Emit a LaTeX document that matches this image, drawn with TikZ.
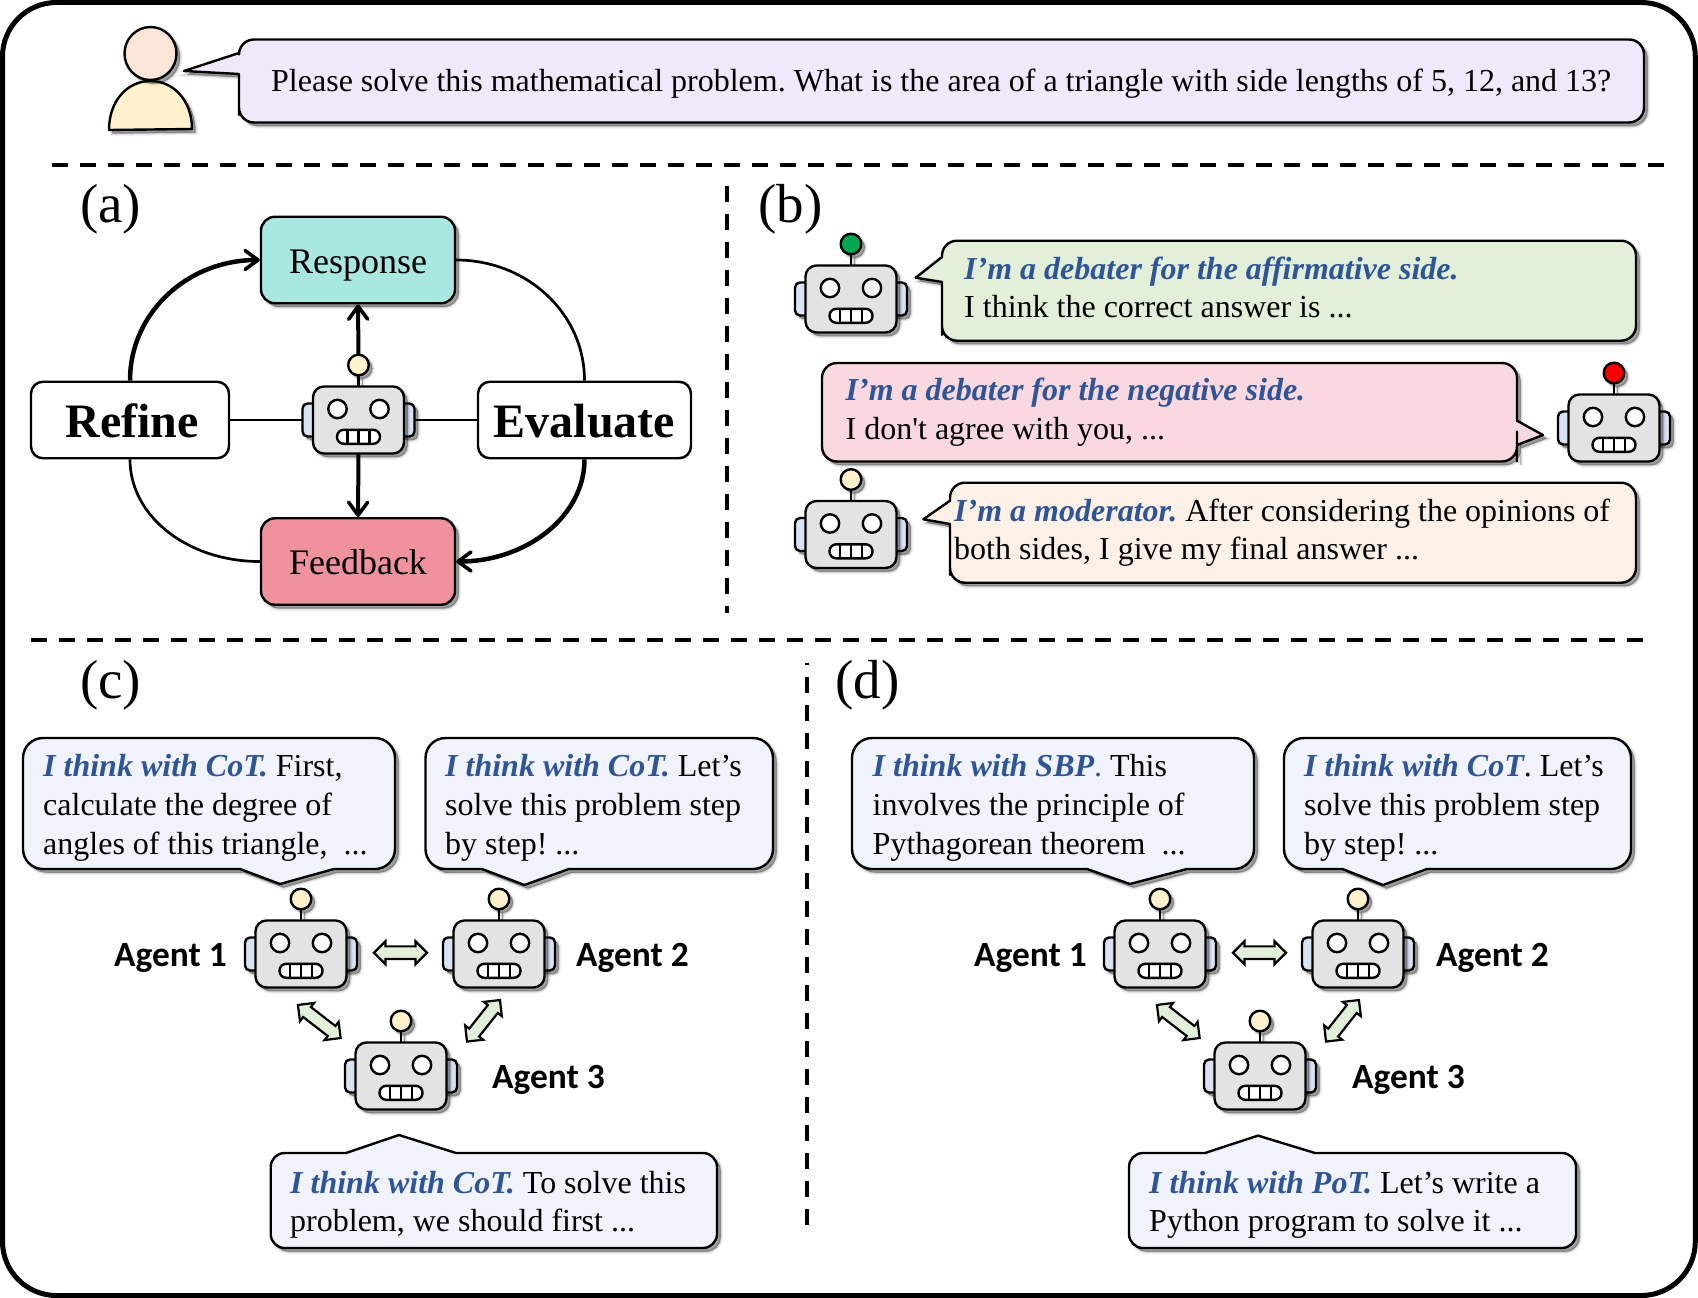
\documentclass[tikz,border=0pt]{standalone}
\usepackage{fontspec}
\setmainfont{Liberation Serif}[Ligatures=TeXOff]
\newfontfamily\agentfont{Carlito}
\usetikzlibrary{arrows.meta,shadows,shapes.arrows}
\definecolor{headgray}{HTML}{E3E3E3}
\definecolor{earblue}{HTML}{DAE3F3}
\definecolor{cream}{HTML}{FFF2CC}
\definecolor{antgreen}{HTML}{00A650}
\definecolor{antred}{HTML}{FF0000}
\definecolor{respcol}{HTML}{A8E8E1}
\definecolor{feedcol}{HTML}{F0919E}
\definecolor{usercol}{HTML}{EFE9FB}
\definecolor{greencol}{HTML}{E2F0D9}
\definecolor{pinkcol}{HTML}{F9D9DF}
\definecolor{peachcol}{HTML}{FDF1E7}
\definecolor{bluecol}{HTML}{F0F3FC}
\definecolor{skin}{HTML}{FBE5D6}
\definecolor{leadblue}{HTML}{2F5597}
\newcommand{\Lead}[1]{\textcolor{leadblue}{\bfseries\itshape #1}}
\newcommand{\Ln}[1]{\hbox{#1}}
\tikzset{
  softsh/.style={
    general shadow={fill=black,draw=black,line width=5pt,opacity=.06,shadow xshift=3.5pt,shadow yshift=-3.5pt},
    general shadow={fill=black,draw=black,line width=2.5pt,opacity=.1,shadow xshift=3.5pt,shadow yshift=-3.5pt},
    general shadow={fill=black,draw=black,line width=.5pt,opacity=.22,shadow xshift=3.5pt,shadow yshift=-3.5pt}},
  ln/.style={draw=black,line width=2.4pt,line join=round},
  bub/.style={ln,softsh},
  divider/.style={line width=4pt,dash pattern=on 16pt off 12pt},
  txt/.style={anchor=base west,inner sep=0pt,font=\fontsize{32}{38.9}\selectfont\frenchspacing},
  panel/.style={anchor=base west,inner sep=0pt,font=\fontsize{55}{60}\selectfont},
  agent/.style={anchor=base west,inner sep=0pt,font=\agentfont\bfseries\fontsize{35.4}{40}\selectfont},
  stepbox/.style={ln,softsh,rounded corners=14pt,minimum width=194pt,minimum height=86.5pt,inner sep=0pt,text height=30pt,text depth=4pt,font=\fontsize{36}{40}\selectfont},
  bigbox/.style={ln,fill=white,rounded corners=12pt,minimum height=76.5pt,inner sep=0pt,text height=38pt,text depth=4pt,font=\bfseries\fontsize{48}{52}\selectfont},
  thin arc/.style={line width=2.7pt},
  bigtip/.style={-{Straight Barb[length=13pt,width=19pt,line width=3.6pt,round]}},
  thick arc/.style={line width=4.5pt,bigtip},
  stem arrow/.style={line width=4pt,bigtip},
  blockarrow/.style={double arrow,draw=black,line width=2.2pt,fill=greencol,inner sep=5pt,minimum width=23pt,double arrow head extend=5pt},
  pics/robot/.style={code={
    \path[ln,softsh,fill=earblue,rounded corners=5pt] (-56,-16.5) rectangle (-40,16.5);
    \path[ln,softsh,fill=earblue,rounded corners=5pt] (40,-16.5) rectangle (56,16.5);
    \path[ln,softsh] (0,-45) -- (0,-33.5);
    \path[ln,softsh,fill=#1] (0,-55) circle[radius=10.3];
    \path[ln,softsh,fill=headgray,rounded corners=11pt] (-45.5,-33.5) rectangle (45.5,33.5);
    \path[ln,fill=white] (-21,-11) circle[radius=9.2];
    \path[ln,fill=white] (21,-11) circle[radius=9.2];
    \path[ln,fill=white,rounded corners=6.8pt] (-21.5,9.8) rectangle (21.5,23.8);
    \path[ln] (-11,9.8) -- (-11,23.8) (0,9.8) -- (0,23.8) (11,9.8) -- (11,23.8);
    \coordinate (-top) at (0,-65.3);
    \coordinate (-bottom) at (0,33.5);
    \coordinate (-left) at (-56,0);
    \coordinate (-right) at (56,0);
  }}
}
\begin{document}
\begin{tikzpicture}[x=1pt,y=-1pt]
\useasboundingbox (0,0) rectangle (1698,1298);
\fill[white] (0,0) rectangle (1698,1298);
\draw[line width=5pt,rounded corners=54pt] (2.5,2.5) rectangle (1695.3,1295.5);

% user
\path[ln,softsh,fill=cream] (109,130) .. controls (109,100) and (128,81) .. (150.5,81) .. controls (173,81) and (192,100) .. (192,129) -- cycle;
\path[ln,softsh,fill=skin] (150.5,53.5) ellipse[x radius=26,y radius=26.5];
\path[bub,fill=usercol] (184,71) -- (239,53) [rounded corners=15pt] -- (239,39.5) -- (1644,39.5) -- (1644,122.5) -- (239,122.5) -- (239,100) [sharp corners] -- (239,74) -- cycle;
\node[txt] (usertext) at (271,91.5) {Please solve this mathematical problem. What is the area of a triangle with side lengths of 5, 12, and 13?};

% dividers
\draw[divider] (52,165) -- (1665,165);
\draw[divider] (727,186) -- (727,613);
\draw[divider] (31,640) -- (1645,640);
\draw[divider,dash phase=13.5pt] (806.5,662.5) -- (806.5,1227);

\node[panel] (la) at (80,222) {(a)};
\node[panel] (lb) at (758,222) {(b)};
\node[panel] (lc) at (80,698) {(c)};
\node[panel] (ld) at (835,698) {(d)};

% panel a
\node[stepbox,fill=respcol] (response) at (358,260) {Response};
\node[stepbox,fill=feedcol] (feedback) at (358,561.5) {Feedback};
\node[bigbox,minimum width=198pt] (refine) at (130,420) {\hspace*{4pt}Refine};
\node[bigbox,minimum width=213pt] (evaluate) at (584.5,420) {Evaluate};
\pic (ra) at (358.5,420) {robot=cream};
\draw[thick arc] (refine.north) .. controls +(0,-68) and +(-72,0) .. (response.west);
\draw[thin arc] (response.east) .. controls +(70,0) and +(0,-68) .. (evaluate.north);
\draw[thick arc] (evaluate.south) .. controls +(0,57) and +(70,0) .. (feedback.east);
\draw[thin arc] (feedback.west) .. controls +(-72,0) and +(0,57) .. (refine.south);
\draw[thin arc] (refine.east) -- (ra-left);
\draw[thin arc] (evaluate.west) -- (ra-right);
\draw[stem arrow] (ra-top) -- (response.south);
\draw[stem arrow] (ra-bottom) -- (feedback.north);

% panel b
\pic (rb1) at (851,299) {robot=antgreen};
\path[bub,fill=greencol] (915.7,277.7) -- (942,257) [rounded corners=15pt] -- (942,240.7) -- (1636,240.7) -- (1636,340.7) -- (942,340.7) -- (942,320) [sharp corners] -- (942,282) -- cycle;
\node[txt] (b1text) at (964,279) {\vtop{\Ln{\Lead{I’m a debater for the affirmative side.}}\Ln{I think the correct answer is ...}}};
\pic (rb2) at (1614,428) {robot=antred};
\path[bub,fill=pinkcol] (1543,435) -- (1517,420.7) [rounded corners=15pt] -- (1517,363) -- (822,363) -- (822,461.5) -- (1517,461.5) -- (1517,446.5) [sharp corners] -- (1517,445) -- cycle;
\node[txt] (b2text) at (845.5,400.5) {\vtop{\Ln{\Lead{I’m a debater for the negative side.}}\Ln{I don't agree with you, ...}}};
\pic (rb3) at (851,534.5) {robot=cream};
\path[bub,fill=peachcol] (923.3,519.3) -- (950,500.7) [rounded corners=15pt] -- (950,482.7) -- (1636,482.7) -- (1636,582.7) -- (950,582.7) -- (950,560) [sharp corners] -- (950,524) -- cycle;
\node[txt] (b3text) at (954,521) {\vtop{\Ln{\Lead{I’m a moderator.} After considering the opinions of}\Ln{both sides, I give my final answer ...}}};

% panel c
\path[bub,fill=bluecol] (280,884) -- (334,869) [rounded corners=20pt] -- (395,869) -- (395,738) -- (23,738) -- (23,869) -- (200,869) [sharp corners] -- (240,869) -- cycle;
\node[txt] (c1text) at (43,776.5) {\vtop{\Ln{\Lead{I think with CoT.} First,}\Ln{calculate the degree of}\Ln{angles of this triangle,\ \ ...}}};
\path[bub,fill=bluecol] (524.5,885) -- (569,869) [rounded corners=20pt] -- (773,869) -- (773,738) -- (425.5,738) -- (425.5,869) -- (460,869) [sharp corners] -- (482,869) -- cycle;
\node[txt] (c2text) at (445,776.5) {\vtop{\Ln{\Lead{I think with CoT.} Let’s}\Ln{solve this problem step}\Ln{by step! ...}}};
\path[bub,fill=bluecol] (399,1135) -- (456,1153) [rounded corners=14pt] -- (717,1153) -- (717,1248) -- (270.7,1248) -- (270.7,1153) -- (320,1153) [sharp corners] -- (346,1153) -- cycle;
\node[txt] (c3text) at (290,1193) {\vtop{\Ln{\Lead{I think with CoT.} To solve this}\Ln{problem, we should first ...}}};
\pic (rc1) at (301,954) {robot=cream};
\pic (rc2) at (499,954) {robot=cream};
\pic (rc3) at (401,1076) {robot=cream};
\node[agent] (ca1) at (114,966.5) {Agent 1};
\node[agent] (ca2) at (576,966.5) {Agent 2};
\node[agent] (ca3) at (492,1088.5) {Agent 3};
\node[blockarrow,minimum height=53pt] (c12) at (400.5,952.7) {};
\node[blockarrow,minimum height=54pt,rotate=-37.7] (c13) at (319.3,1021.5) {};
\node[blockarrow,minimum height=53pt,rotate=51.6] (c23) at (483.5,1020.8) {};

% panel d
\path[bub,fill=bluecol] (1130,884) -- (1187,869) [rounded corners=20pt] -- (1254,869) -- (1254,738) -- (852,738) -- (852,869) -- (1050,869) [sharp corners] -- (1087,869) -- cycle;
\node[txt] (d1text) at (872.5,776.5) {\vtop{\Ln{\Lead{I think with SBP}\textcolor{leadblue}{.} This}\Ln{involves the principle of}\Ln{Pythagorean theorem\ \ ...}}};
\path[bub,fill=bluecol] (1383,885) -- (1427,869) [rounded corners=20pt] -- (1631,869) -- (1631,738) -- (1284,738) -- (1284,869) -- (1320,869) [sharp corners] -- (1342.5,869) -- cycle;
\node[txt] (d2text) at (1304,776.5) {\vtop{\Ln{\Lead{I think with CoT}. Let’s}\Ln{solve this problem step}\Ln{by step! ...}}};
\path[bub,fill=bluecol] (1258,1135.6) -- (1315,1153) [rounded corners=14pt] -- (1576,1153) -- (1576,1248) -- (1129,1248) -- (1129,1153) -- (1180,1153) [sharp corners] -- (1205,1153) -- cycle;
\node[txt] (d3text) at (1149,1193) {\vtop{\Ln{\Lead{I think with PoT.} Let’s write a}\Ln{Python program to solve it ...}}};
\pic (rd1) at (1160,954) {robot=cream};
\pic (rd2) at (1358,954) {robot=cream};
\pic (rd3) at (1260,1076) {robot=cream};
\node[agent] (da1) at (974,966.5) {Agent 1};
\node[agent] (da2) at (1436,966.5) {Agent 2};
\node[agent] (da3) at (1352,1088.5) {Agent 3};
\node[blockarrow,minimum height=53pt] (d12) at (1259.5,952.7) {};
\node[blockarrow,minimum height=54pt,rotate=-37.7] (d13) at (1178.3,1021.5) {};
\node[blockarrow,minimum height=53pt,rotate=51.6] (d23) at (1342.5,1020.8) {};
\end{tikzpicture}
\end{document}
